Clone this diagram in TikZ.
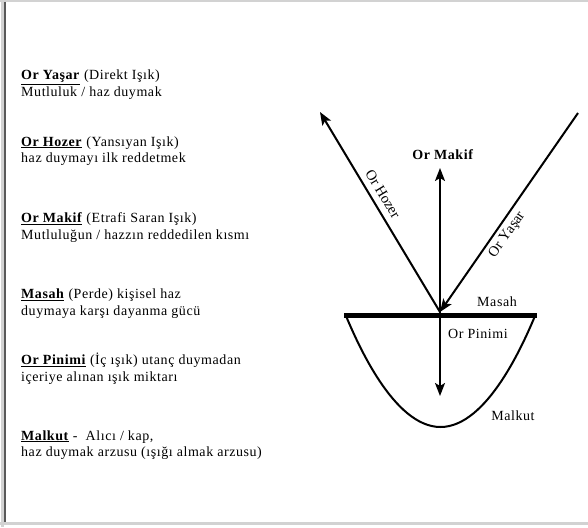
\documentclass[tikz,border=0pt]{standalone}
\usepackage{fontspec}
\setmainfont{Liberation Serif}[LetterSpace=4]
\newfontfamily\rayfont{Liberation Serif}[Kerning=Off]
\usepackage{tikz}
\usetikzlibrary{arrows.meta}

\begin{document}
\begin{tikzpicture}[x=1pt, y=-1pt]
        \tikzset{txt/.style={anchor=west, align=left, inner sep=0pt, font=\fontsize{14}{16.5}\selectfont},
                 lbl/.style={inner sep=0pt, font=\fontsize{14}{16.5}\selectfont},
                 raylbl/.style={inner sep=0pt, font=\rayfont\fontsize{14.5}{16.5}\selectfont},
                 ray/.style={line width=2pt, -{Stealth[length=13pt, width=10pt, inset=3pt]}}}
        \useasboundingbox (0,0) rectangle (588,527);
        % frame
        \draw [gray!35, line width=2pt] (0,1) -- (588,1);
        \draw [gray!35, line width=3pt] (0,523.5) -- (588,523.5);
        \draw [gray!35, line width=3pt] (2,0) -- (2,527);
        \draw [gray!70!black, line width=1.5pt] (5,2) -- (5,522);
        % left column
        \node [txt] (yasar)  at (21, 84.5) {\underline{\textbf{Or Yaşar}} (Direkt Işık)\\Mutluluk / haz duymak};
        \node [txt] (hozer)  at (21, 151)  {\underline{\textbf{Or Hozer}} (Yansıyan Işık)\\haz duymayı ilk reddetmek};
        \node [txt] (makif)  at (21, 227.5){\underline{\textbf{Or Makif}} (Etrafi Saran Işık)\\Mutluluğun / hazzın reddedilen kısmı};
        \node [txt] (masah)  at (21, 303.5){\underline{\textbf{Masah}} (Perde) kişisel haz\\duymaya karşı dayanma gücü};
        \node [txt] (pinimi) at (21, 368.5){\underline{\textbf{Or Pinimi}} (İç ışık) utanç duymadan\\içeriye alınan ışık miktarı};
        \node [txt] (malkut) at (21, 445)  {\underline{\textbf{Malkut}} -\ \ Alıcı / kap,\\haz duymak arzusu (ışığı almak arzusu)};
        % diagram
        \coordinate (apex)     at (440, 312);
        \coordinate (hozertop) at (320, 112);
        \coordinate (yasartop) at (578, 113);
        \coordinate (makiftop) at (440, 168);
        \coordinate (pinbot)   at (440, 396);
        \coordinate (barl)     at (344, 315);
        \coordinate (barr)     at (537, 315);
        \node [lbl] (makiflbl)  at (443, 155) {\textbf{Or Makif}};
        \node [lbl] (masahlbl)  at (497, 302) {Masah};
        \node [lbl] (pinimilbl) at (478, 334) {Or Pinimi};
        \node [lbl] (malkutlbl) at (513, 416) {Malkut};
        \draw [ray] (apex) -- node [raylbl, sloped, above=6pt, pos=0.56] (hozerlbl) {Or Hozer} (hozertop);
        \draw [ray] (yasartop) -- node [raylbl, sloped, below=4pt, pos=0.58] (yasarlbl) {Or Yaşar} (apex);
        \draw [ray] (apex) -- (makiftop);
        \draw [ray] (apex) -- (pinbot);
        \draw [line width=2pt] (346,316) parabola bend (440.5,427) (535,316);
        \draw [line width=5pt] (barl) -- (barr);
    \end{tikzpicture}
\end{document}
